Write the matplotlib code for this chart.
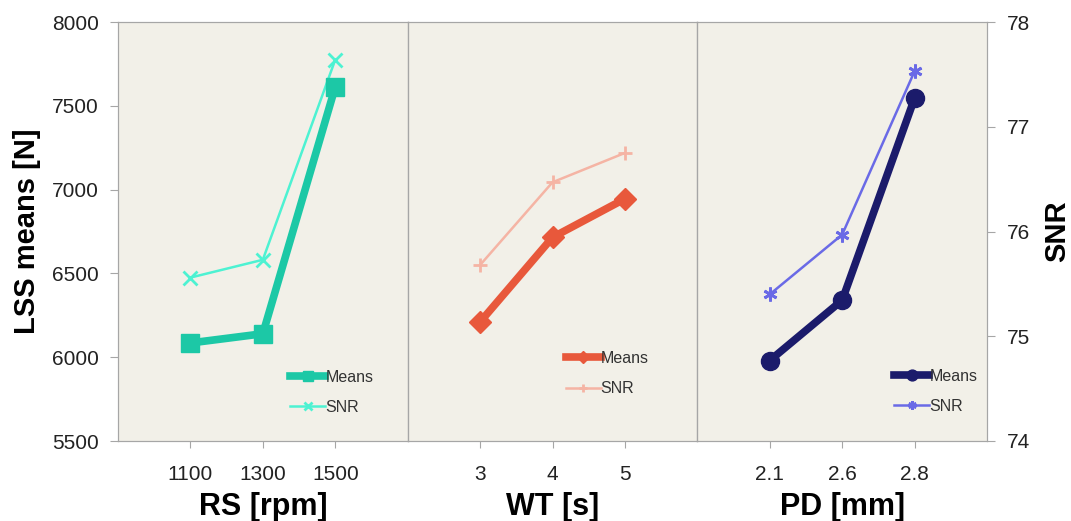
import matplotlib
matplotlib.use('Agg')
import matplotlib.pyplot as plt

plt.rcParams.update({
    'font.family': ['Liberation Sans', 'DejaVu Sans'],
    'axes.edgecolor': '#A6A6A6',
    'xtick.color': '#A6A6A6',
    'ytick.color': '#A6A6A6',
    'xtick.labelcolor': '#222222',
    'ytick.labelcolor': '#222222',
})

FUNDO = '#F2F0E8'

# ── Dados ──────────────────────────────────────────────────────────────────────
rs_levels = ['1100', '1300', '1500']
rs_means = [6085, 6140, 7612]
rs_snr = [75.56, 75.73, 77.64]

wt_levels = ['3', '4', '5']
wt_means = [6210, 6715, 6945]
wt_snr = [75.68, 76.47, 76.75]

pd_levels = ['2.1', '2.6', '2.8']
pd_means = [5980, 6340, 7545]
pd_snr = [75.40, 75.97, 77.53]

paineis = [
    # (levels, means, snr, xlabel, cor_means, cor_snr, mk_means, mk_snr, pos legenda)
    (rs_levels, rs_means, rs_snr, 'RS [rpm]', '#1CC8A6', '#4DF2D2', 's', 'x', (0.595, 0.062)),
    (wt_levels, wt_means, wt_snr, 'WT [s]', '#E8583B', '#F5B4A4', 'D', '+', (0.545, 0.107)),
    (pd_levels, pd_means, pd_snr, 'PD [mm]', '#1B1B6B', '#6A6AE6', 'o', (6, 2, 0), (0.68, 0.065)),
]

fig = plt.figure(figsize=(10.71, 5.21), dpi=100, facecolor='white')
left, right, bottom, top = 118 / 1071, 987 / 1071, 1 - 441 / 521, 1 - 22 / 521
largura = (right - left) / 3

ax0 = None
for i, (lv, means, snr, xlab, c_m, c_s, mk_m, mk_s, leg_pos) in enumerate(paineis):
    ax = fig.add_axes([left + i * largura, bottom, largura, top - bottom],
                      sharey=ax0)
    if ax0 is None:
        ax0 = ax
    ax2 = ax.twinx()

    xs = range(1, len(lv) + 1)
    h1, = ax.plot(xs, means, color=c_m, lw=5.5, marker=mk_m,
                  ms=13 if mk_m != 'D' else 11, zorder=4, label='Means')
    h2, = ax2.plot(xs, snr, color=c_s, lw=1.8, marker=mk_s, ms=10,
                   mew=2, zorder=3, label='SNR')

    ax.set_xlim(0, 4)
    ax.set_ylim(5500, 8000)
    ax.set_yticks([5500, 6000, 6500, 7000, 7500, 8000])
    ax.set_xticks(list(xs))
    ax.set_xticklabels(lv, fontsize=15)
    ax.set_xlabel(xlab, fontsize=22, fontweight='bold', labelpad=6)
    ax.tick_params(axis='x', length=5, pad=12)

    ax2.set_ylim(74, 78)
    ax2.set_yticks([74, 75, 76, 77, 78])

    if i == 0:
        ax.set_ylabel('LSS means [N]', fontsize=21, fontweight='bold', labelpad=8)
        ax.tick_params(axis='y', left=True, right=False, labelsize=15, length=6, pad=8)
    else:
        ax.tick_params(axis='y', left=False, right=False, labelleft=False)
    if i == 2:
        ax2.tick_params(axis='y', left=False, right=True, labelsize=15, length=6, pad=8)
        ax2.set_ylabel('SNR', fontsize=21, fontweight='bold', labelpad=10)
    else:
        ax2.tick_params(axis='y', left=False, right=False, labelright=False)

    # fundo no eixo de trás, médias por cima
    ax.patch.set_visible(False)
    ax2.patch.set_visible(True)
    ax2.set_facecolor(FUNDO)
    ax.set_zorder(ax2.get_zorder() + 1)

    ax.legend([h1, h2], ['Means', 'SNR'], loc='lower left', bbox_to_anchor=leg_pos,
              frameon=False, fontsize=11.5, handlelength=2.2, handletextpad=0.0,
              labelspacing=0.95, borderpad=0, borderaxespad=0, markerscale=0.6,
              labelcolor='#333333')

fig.savefig('out.png', dpi=100, facecolor='white')
